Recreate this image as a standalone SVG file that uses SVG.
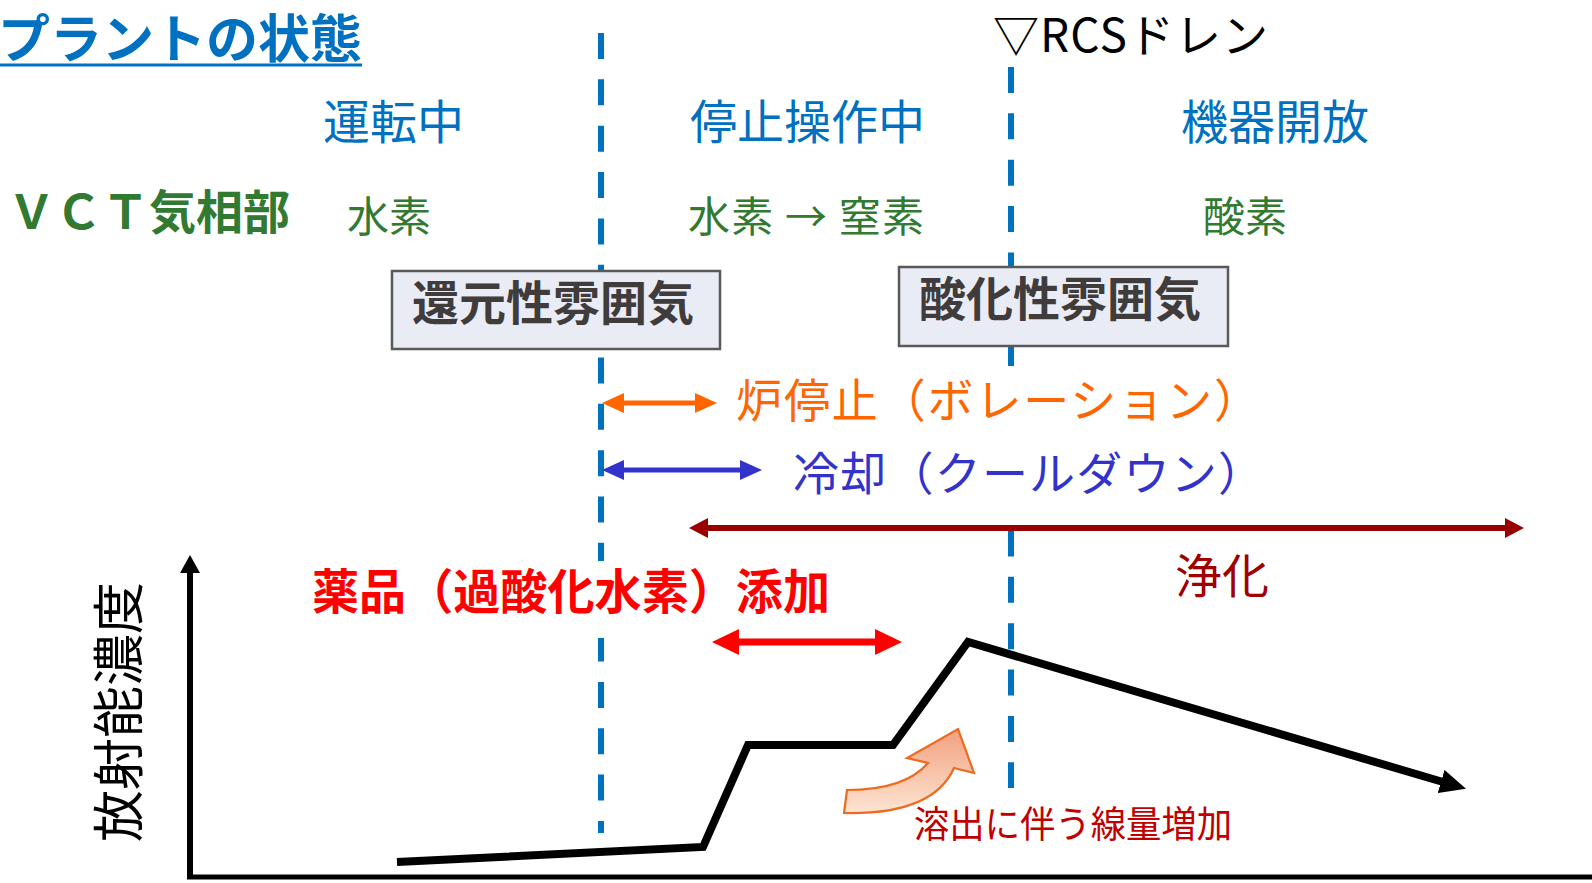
<svg xmlns="http://www.w3.org/2000/svg" width="1592" height="883" viewBox="0 0 1592 883">
<style>
  text { font-family: "Noto Sans CJK JP", "Noto Sans", sans-serif; }
  .blue { fill: #0070C0; font-size: 47px; }
  .green { fill: #327A32; font-size: 42px; }
  .boxtxt { fill: #403C3B; font-size: 47px; font-weight: bold; }
  .box { fill: #E9EBF5; stroke: #595959; stroke-width: 2.5; }
  .dash { stroke: #0070C0; stroke-width: 6; stroke-dasharray: 26 20.35; fill: none; }
  .bg { fill: #FFFFFF; }
</style>
<defs>
  <marker id="mOrange" markerUnits="userSpaceOnUse" markerWidth="22" markerHeight="20" refX="2" refY="10" orient="auto-start-reverse">
    <path d="M0,0 L22,10 L0,20 z" fill="#FF6600"/>
  </marker>
  <marker id="mBlue" markerUnits="userSpaceOnUse" markerWidth="22" markerHeight="20" refX="2" refY="10" orient="auto-start-reverse">
    <path d="M0,0 L22,10 L0,20 z" fill="#3333CC"/>
  </marker>
  <marker id="mDark" markerUnits="userSpaceOnUse" markerWidth="19" markerHeight="20" refX="2" refY="10" orient="auto-start-reverse">
    <path d="M0,0 L19,10 L0,20 z" fill="#990000"/>
  </marker>
  <marker id="mRed" markerUnits="userSpaceOnUse" markerWidth="27" markerHeight="26" refX="2" refY="13" orient="auto-start-reverse">
    <path d="M0,0 L27,13 L0,26 z" fill="#FF0000"/>
  </marker>
  <marker id="mAxis" markerUnits="userSpaceOnUse" markerWidth="18" markerHeight="20" refX="2" refY="10" orient="auto">
    <path d="M0,0 L18,10 L0,20 z" fill="#000000"/>
  </marker>
  <marker id="mCurve" markerUnits="userSpaceOnUse" markerWidth="26" markerHeight="24" refX="2" refY="12" orient="auto">
    <path d="M0,0 L26,12 L0,24 z" fill="#000000"/>
  </marker>
  <linearGradient id="gOrange" x1="0" y1="0" x2="0" y2="1">
    <stop offset="0" stop-color="#F2A07E"/>
    <stop offset="1" stop-color="#FDE4D2"/>
  </linearGradient>
</defs>

<g id="connectors">
  <line class="dash" x1="601" y1="33" x2="601" y2="833"/>
  <line class="dash" x1="1011" y1="67" x2="1011" y2="788"/>
</g>

<g id="title">
  <text x="-2" y="58" style="font-size:52px;font-weight:bold;fill:#0070C0">プラントの状態</text>
  <rect x="0" y="63.5" width="362" height="3" fill="#0070C0"/>
</g>

<g id="rcs-drain">
  <text x="993" y="52" textLength="275" lengthAdjust="spacing" style="font-size:46px;fill:#000000">▽RCSドレン</text>
</g>

<g id="phase-labels">
  <text class="blue" x="323" y="139">運転中</text>
  <text class="blue" x="690" y="139">停止操作中</text>
  <text class="blue" x="1181" y="139">機器開放</text>
</g>

<g id="vct">
  <text x="8" y="229" style="font-size:47px;font-weight:bold;fill:#327A32">ＶＣＴ気相部</text>
  <text class="green" x="347" y="232">水素</text>
  <text class="green" x="688" y="232" textLength="236" lengthAdjust="spacing">水素 → 窒素</text>
  <text class="green" x="1203" y="232">酸素</text>
</g>

<g id="box-reducing">
  <rect class="box" x="392" y="271" width="328" height="78"/>
  <text class="boxtxt" x="412" y="320">還元性雰囲気</text>
</g>

<g id="box-oxidizing">
  <rect class="box" x="899" y="267" width="329" height="79"/>
  <text class="boxtxt" x="919" y="316">酸化性雰囲気</text>
</g>

<g id="label-shutdown">
  <rect class="bg" x="728" y="366" width="516" height="76"/>
  <text x="736" y="417" textLength="524" lengthAdjust="spacing" style="font-size:46px;fill:#FF6600">炉停止（ボレーション）</text>
</g>

<g id="label-cooldown">
  <rect class="bg" x="782" y="438" width="462" height="74"/>
  <text x="793" y="490" textLength="471" lengthAdjust="spacing" style="font-size:46px;fill:#3333CC">冷却（クールダウン）</text>
</g>

<g id="label-purify">
  <text x="1175" y="593" style="font-size:47px;fill:#A00000">浄化</text>
</g>

<g id="label-chemical">
  <rect class="bg" x="305" y="561" width="534" height="77"/>
  <text x="312" y="609" textLength="518" lengthAdjust="spacingAndGlyphs" style="font-size:48px;font-weight:bold;fill:#FF0000">薬品（過酸化水素）添加</text>
</g>

<g id="label-axis">
  <text transform="translate(138,712) rotate(-90)" text-anchor="middle" style="font-size:52px;fill:#000000">放射能濃度</text>
</g>

<g id="label-elution">
  <path d="M844,813 Q933,815 954,768 L974,773 L958,729 L907,758 L928,763 Q905,790 847,790 Z" fill="url(#gOrange)" stroke="#ED6A1E" stroke-width="2.2" stroke-linejoin="miter"/>
  <text x="914" y="838" textLength="318" lengthAdjust="spacingAndGlyphs" style="font-size:37px;fill:#C00000">溶出に伴う線量増加</text>
</g>

<g id="arrows">
  <line x1="622" y1="403" x2="697" y2="403" stroke="#FF6600" stroke-width="5" marker-start="url(#mOrange)" marker-end="url(#mOrange)"/>
  <line x1="622" y1="470" x2="742" y2="470" stroke="#3333CC" stroke-width="5" marker-start="url(#mBlue)" marker-end="url(#mBlue)"/>
  <line x1="706" y1="528" x2="1507" y2="528" stroke="#990000" stroke-width="6" marker-start="url(#mDark)" marker-end="url(#mDark)"/>
  <line x1="737" y1="642" x2="877" y2="642" stroke="#FF0000" stroke-width="7" marker-start="url(#mRed)" marker-end="url(#mRed)"/>
  <line x1="190" y1="878" x2="190" y2="571" stroke="#000000" stroke-width="6" marker-end="url(#mAxis)"/>
  <line x1="187" y1="877" x2="1592" y2="877" stroke="#000000" stroke-width="5"/>
  <polyline points="397,862 703,847 748,745 893,745 968,642 1443,782" fill="none" stroke="#000000" stroke-width="8" stroke-linejoin="miter" marker-end="url(#mCurve)"/>
</g>
</svg>
